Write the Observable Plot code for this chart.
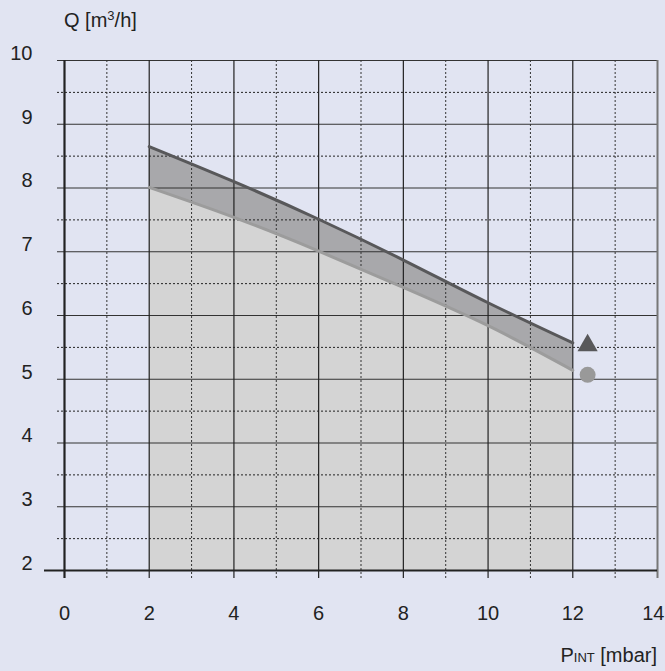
<!DOCTYPE html>
<html>
<head>
<meta charset="utf-8">
<script src="https://cdn.jsdelivr.net/npm/d3@7"></script>
<script src="https://cdn.jsdelivr.net/npm/@observablehq/plot@0.6"></script>
<style>
  html, body { margin: 0; padding: 0; background: #e1e4f2; }
  #chart svg { display: block; background: #e1e4f2; }
</style>
</head>
<body>
<div id="chart"></div>
<script>
const pressure = [2, 4, 6, 8, 10, 12];
const flowUpper = [8.65, 8.10, 7.51, 6.87, 6.20, 5.57];
const flowLower = [8.01, 7.54, 7.01, 6.44, 5.84, 5.14];
const triangleMarker = {x: 12.35, y: 5.53};
const circleMarker = {x: 12.35, y: 5.07};
const xTicks = [0, 2, 4, 6, 8, 10, 12];
const xLastTick = [14];
const xGrid = [1, 2, 3, 4, 5, 6, 7, 8, 9, 10, 11, 12, 13, 14];
const yTicks = [2, 3, 4, 5, 6, 7, 8, 9, 10];
const yHalf = [2.5, 3.5, 4.5, 5.5, 6.5, 7.5, 8.5, 9.5];

const rows = pressure.map((p, i) => ({p, up: flowUpper[i], lo: flowLower[i]}));
const font = "'Liberation Sans', Arial, sans-serif";

const chart = Plot.plot({
  width: 665,
  height: 671,
  marginLeft: 64,
  marginRight: 8,
  marginTop: 60,
  marginBottom: 101,
  style: {background: "#e1e4f2", fontFamily: font, fontSize: "20px", color: "#222"},
  x: {domain: [0, 14]},
  y: {domain: [2, 10]},
  marks: [
    Plot.areaY(rows, {x: "p", y1: 2, y2: "lo", fill: "#d4d4d4", curve: "natural"}),
    Plot.areaY(rows, {x: "p", y1: "lo", y2: "up", fill: "#a8a8ab", curve: "natural"}),
    // dashed grid
    Plot.ruleY(yHalf, {stroke: "#222", strokeWidth: 1, strokeDasharray: "2,2", insetLeft: -7}),
    Plot.ruleX(xGrid.filter(d => d % 2 === 1), {stroke: "#333", strokeWidth: 1, strokeDasharray: "2,2", insetBottom: -8}),
    // solid grid
    Plot.ruleY(yTicks.filter(d => d > 2), {stroke: "#333", strokeWidth: 1.2, insetLeft: -7}),
    Plot.ruleX(xGrid.filter(d => d % 2 === 0 && d < 14), {stroke: "#222", strokeWidth: 1.2, insetBottom: -8}),
    Plot.ruleX([14], {stroke: "#777", strokeWidth: 2, insetBottom: -8}),
    // curves
    Plot.lineY(rows, {x: "p", y: "lo", stroke: "#9c9c9c", strokeWidth: 3, curve: "natural"}),
    Plot.lineY(rows, {x: "p", y: "up", stroke: "#58585a", strokeWidth: 3, curve: "natural"}),
    // markers
    Plot.dot([triangleMarker], {x: "x", y: "y", symbol: "triangle", r: 7.5, fill: "#58585a", stroke: "none"}),
    Plot.dot([circleMarker], {x: "x", y: "y", symbol: "circle", r: 8, fill: "#999999", stroke: "none"}),
    // axes lines
    Plot.ruleX([0], {stroke: "#222", strokeWidth: 2.2, insetBottom: -8}),
    Plot.ruleY([2], {stroke: "#222", strokeWidth: 2.2, insetLeft: -20}),
    Plot.axisY(yTicks, {tickSize: 0, tickPadding: 32, dy: -7, fontSize: 20, fill: "#222", label: null, tickFormat: d => String(d)}),
    Plot.axisX(xTicks, {tickSize: 0, tickPadding: 35, fontSize: 20, fill: "#222", label: null, tickFormat: d => String(d)}),
    Plot.axisX(xLastTick, {tickSize: 0, tickPadding: 35, fontSize: 20, fill: "#222", label: null, textAnchor: "end", dx: 7, tickFormat: d => String(d)})
  ]
});

const svg = d3.select(chart);
// y-axis title with superscript
const q = svg.append("text")
  .attr("x", 64).attr("y", 27)
  .attr("text-anchor", "start")
  .attr("font-family", font).attr("font-size", 20).attr("fill", "#222");
q.append("tspan").text("Q [m");
q.append("tspan").attr("font-size", 13).attr("dy", -7).text("3");
q.append("tspan").attr("dy", 7).text("/h]");

// x-axis title with small "INT"
const t = svg.append("text")
  .attr("x", 657).attr("y", 662)
  .attr("text-anchor", "end")
  .attr("font-family", font).attr("font-size", 20).attr("fill", "#222");
t.append("tspan").text("P");
t.append("tspan").attr("font-size", 13).text("INT");
t.append("tspan").text(" [mbar]");

document.getElementById("chart").append(chart);
</script>
</body>
</html>
